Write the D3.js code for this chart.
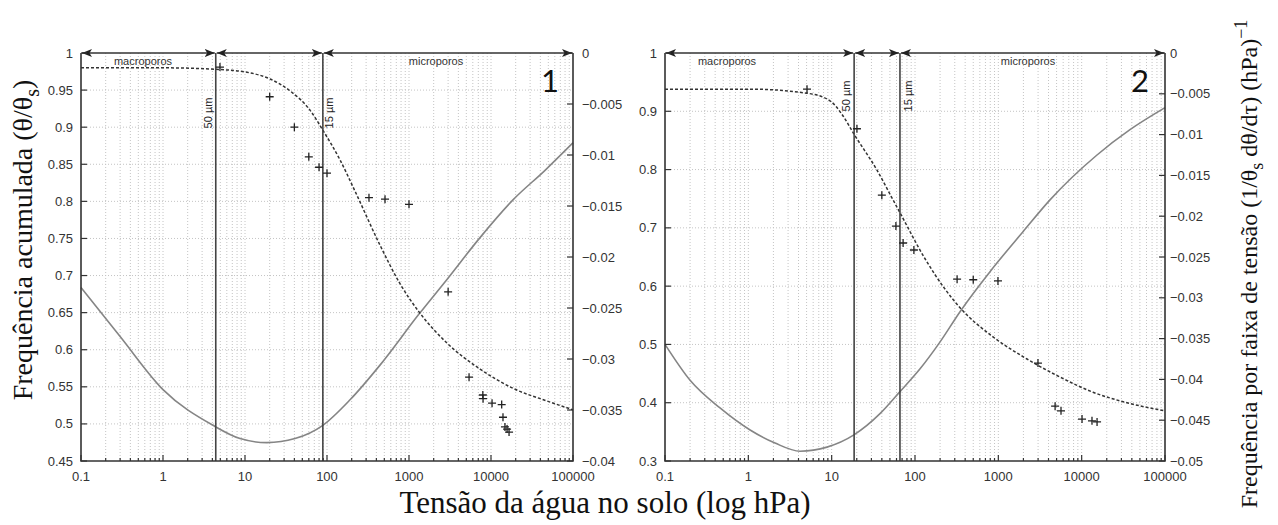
<!DOCTYPE html>
<html>
<head>
<meta charset="utf-8">
<script src="https://cdn.jsdelivr.net/npm/d3@7"></script>
<style>
  body { margin: 0; background: #fff; }
</style>
</head>
<body>
<svg id="chart" width="1278" height="525"></svg>
<script>
// ---- shared x axis (log tension, hPa)
var xTicks = [0.1, 1, 10, 100, 1000, 10000, 100000];
var xTickLabels = ["0.1", "1", "10", "100", "1000", "10000", "100000"];

// ---- panel 1
var p1LeftTicks = [0.45, 0.5, 0.55, 0.6, 0.65, 0.7, 0.75, 0.8, 0.85, 0.9, 0.95, 1];
var p1RightTicks = [-0.04, -0.035, -0.03, -0.025, -0.02, -0.015, -0.01, -0.005, 0];
var p1Limits = [4.4, 89];   // 50 um, 15 um
var p1CumH = [0.1, 1, 4.4, 10.6, 20.2, 35.4, 62, 89, 144, 219, 443, 777, 1324, 2905, 7345, 18540, 48000, 100000];
var p1CumTheta = [0.980, 0.980, 0.978, 0.974, 0.965, 0.949, 0.923, 0.896, 0.856, 0.814, 0.741, 0.689, 0.651, 0.609, 0.574, 0.548, 0.531, 0.519];
var p1FreqH = [0.1, 0.3, 1, 4.07, 8.7, 18.5, 40.7, 89, 191, 443, 1324, 2905, 7345, 18540, 45600, 100000];
var p1FreqVal = [-0.0230, -0.0278, -0.0330, -0.0365, -0.0378, -0.0382, -0.0378, -0.0365, -0.0340, -0.0306, -0.0256, -0.0222, -0.0181, -0.0144, -0.0115, -0.0088];
var p1ObsH = [4.95, 20, 40, 60, 80, 100, 325, 510, 1000, 3000, 5400, 7950, 8000, 10300, 13500, 14000, 14800, 15700, 16600];
var p1ObsTheta = [0.981, 0.941, 0.900, 0.860, 0.846, 0.838, 0.805, 0.803, 0.796, 0.678, 0.563, 0.539, 0.534, 0.528, 0.526, 0.509, 0.496, 0.493, 0.489];

// ---- panel 2
var p2LeftTicks = [0.3, 0.4, 0.5, 0.6, 0.7, 0.8, 0.9, 1];
var p2RightTicks = [-0.05, -0.045, -0.04, -0.035, -0.03, -0.025, -0.02, -0.015, -0.01, -0.005, 0];
var p2Limits = [18.6, 66];
var p2CumH = [0.1, 1.05, 5.06, 9.55, 13.7, 18.5, 35, 54.5, 66, 132, 229, 347, 863, 2208, 5500, 13680, 35000, 100000];
var p2CumTheta = [0.938, 0.938, 0.931, 0.918, 0.892, 0.861, 0.799, 0.748, 0.726, 0.647, 0.595, 0.563, 0.513, 0.475, 0.444, 0.418, 0.400, 0.386];
var p2FreqH = [0.1, 0.2, 0.457, 1.05, 2.09, 4.17, 8.79, 18.5, 38, 66, 115, 200, 347, 794, 1977, 4170, 15280, 38000, 100000];
var p2FreqVal = [-0.0357, -0.0401, -0.0435, -0.0462, -0.0478, -0.0488, -0.0483, -0.0468, -0.0442, -0.0415, -0.0387, -0.0354, -0.0317, -0.0268, -0.0219, -0.0180, -0.0125, -0.0094, -0.0067];
var p2ObsH = [5.06, 20.1, 40, 59, 72, 97, 320, 500, 990, 2990, 4800, 5650, 10100, 13300, 15300];
var p2ObsTheta = [0.938, 0.870, 0.756, 0.703, 0.674, 0.662, 0.612, 0.611, 0.609, 0.468, 0.394, 0.386, 0.372, 0.369, 0.367];

var svg = d3.select('#chart');
var TOP = 53, BOTTOM = 461;
var SANS = '"Liberation Sans", Arial, sans-serif';
var SERIF = '"Liberation Serif", "Times New Roman", serif';

// arrow head for the pore-range arrows
svg.append('defs').append('marker')
    .attr('id', 'head')
    .attr('viewBox', '0 0 10 8')
    .attr('refX', 10).attr('refY', 4)
    .attr('markerWidth', 10).attr('markerHeight', 8)
    .attr('markerUnits', 'userSpaceOnUse')
    .attr('orient', 'auto-start-reverse')
  .append('path')
    .attr('d', 'M0,0 L10,4 L0,8 L2.5,4 z')
    .style('fill', '#222');

function fmtLeft(v) { return String(+v.toFixed(2)); }
function fmtRight(v) { return v === 0 ? '0' : '\u2212' + String(+(-v).toFixed(3)); }

function drawPanel(p) {
  var x = d3.scaleLog().domain([0.1, 100000]).range([p.left, p.right]);
  var yL = d3.scaleLinear().domain([p.leftTicks[0], 1]).range([BOTTOM, TOP]);
  var yR = d3.scaleLinear().domain([p.rightTicks[0], 0]).range([BOTTOM, TOP]);
  var g = svg.append('g').attr('font-family', SANS);

  // minor positions 1..9 per decade
  var minors = [];
  xTicks.slice(0, -1).forEach(function(t) {
    for (var k = 1; k < 10; k++) minors.push(t * k);
  });
  minors.push(100000);

  // grid
  g.selectAll('.vgrid').data(minors.slice(1, -1)).enter().append('line')
      .attr('x1', function(d) { return x(d); }).attr('x2', function(d) { return x(d); })
      .attr('y1', TOP).attr('y2', BOTTOM)
      .style('stroke', '#c4c4c4').style('stroke-width', 1).style('stroke-dasharray', '1,2');
  g.selectAll('.hgrid').data(p.leftTicks.slice(1, -1)).enter().append('line')
      .attr('x1', p.left).attr('x2', p.right)
      .attr('y1', function(d) { return yL(d); }).attr('y2', function(d) { return yL(d); })
      .style('stroke', '#c4c4c4').style('stroke-width', 1).style('stroke-dasharray', '1,2');

  // frequency curve (right axis)
  var freq = p.freqH.map(function(h, i) { return [x(h), yR(p.freqVal[i])]; });
  g.append('path')
      .attr('d', d3.line().curve(d3.curveMonotoneX)(freq))
      .style('fill', 'none').style('stroke', '#858585').style('stroke-width', 1.6);

  // cumulative curve (left axis)
  var cum = p.cumH.map(function(h, i) { return [x(h), yL(p.cumTheta[i])]; });
  g.append('path')
      .attr('d', d3.line().curve(d3.curveMonotoneX)(cum))
      .style('fill', 'none').style('stroke', '#333').style('stroke-width', 1.5)
      .style('stroke-dasharray', '3,2');

  // pore-size limit lines
  g.selectAll('.lim').data(p.limits).enter().append('line')
      .attr('x1', function(d) { return x(d); }).attr('x2', function(d) { return x(d); })
      .attr('y1', TOP).attr('y2', BOTTOM)
      .style('stroke', '#444').style('stroke-width', 1.6);

  // observations
  g.selectAll('.obs').data(p.obsH).enter().append('path')
      .attr('transform', function(d, i) { return 'translate(' + x(d) + ',' + yL(p.obsTheta[i]) + ')'; })
      .attr('d', 'M-4,0H4M0,-4V4')
      .style('stroke', '#222').style('stroke-width', 1.3);

  // frame
  g.append('path')
      .attr('d', 'M' + p.left + ',' + TOP + 'V' + BOTTOM + 'H' + p.right + 'V' + TOP)
      .style('fill', 'none').style('stroke', '#333').style('stroke-width', 1.6);

  // range arrows along the top
  var bounds = [p.left, x(p.limits[0]), x(p.limits[1]), p.right];
  for (var i = 0; i < 3; i++) {
    g.append('line')
        .attr('x1', bounds[i] + 1).attr('x2', bounds[i + 1] - 1)
        .attr('y1', TOP).attr('y2', TOP)
        .style('stroke', '#333').style('stroke-width', 1.5)
        .attr('marker-start', 'url(#head)').attr('marker-end', 'url(#head)');
  }

  // x ticks (inside)
  g.selectAll('.xt').data(minors).enter().append('line')
      .attr('x1', function(d) { return x(d); }).attr('x2', function(d) { return x(d); })
      .attr('y1', BOTTOM)
      .attr('y2', function(d) { return xTicks.indexOf(d) >= 0 ? BOTTOM - 6 : BOTTOM - 3; })
      .style('stroke', '#333').style('stroke-width', 1.2);
  g.selectAll('.xl').data(xTicks).enter().append('text')
      .attr('x', function(d) { return x(d); }).attr('y', 481)
      .attr('text-anchor', 'middle')
      .style('font-size', '13px').style('fill', '#333')
      .text(function(d, i) { return xTickLabels[i]; });

  // left y ticks
  g.selectAll('.yl').data(p.leftTicks).enter().append('line')
      .attr('x1', p.left).attr('x2', p.left + 6)
      .attr('y1', function(d) { return yL(d); }).attr('y2', function(d) { return yL(d); })
      .style('stroke', '#333').style('stroke-width', 1.2);
  g.selectAll('.yll').data(p.leftTicks).enter().append('text')
      .attr('x', p.left - 8).attr('y', function(d) { return yL(d); })
      .attr('dy', '0.35em').attr('text-anchor', 'end')
      .style('font-size', '13px').style('fill', '#333')
      .text(fmtLeft);

  // right y ticks
  g.selectAll('.yr').data(p.rightTicks).enter().append('line')
      .attr('x1', p.right).attr('x2', p.right - 6)
      .attr('y1', function(d) { return yR(d); }).attr('y2', function(d) { return yR(d); })
      .style('stroke', '#333').style('stroke-width', 1.2);
  g.selectAll('.yrl').data(p.rightTicks).enter().append('text')
      .attr('x', p.right + p.rightGap).attr('y', function(d) { return yR(d); })
      .attr('dy', '0.35em')
      .style('font-size', '13px').style('fill', '#333')
      .text(fmtRight);

  // region names
  g.append('text').attr('x', p.left + 62).attr('y', 65).attr('text-anchor', 'middle')
      .style('font-size', '11px').style('fill', '#333').text('macroporos');
  g.append('text').attr('x', p.right - 137).attr('y', 65).attr('text-anchor', 'middle')
      .style('font-size', '11px').style('fill', '#333').text('microporos');

  // pore diameter labels next to the limit lines
  [['50 \u00b5m', x(p.limits[0]) + p.labelOff[0]], ['15 \u00b5m', x(p.limits[1]) + p.labelOff[1]]]
    .forEach(function(l) {
      g.append('text')
          .attr('transform', 'translate(' + l[1] + ',' + p.labelY + ') rotate(-90)')
          .attr('dy', '0.35em').attr('text-anchor', 'middle')
          .style('font-size', '11px').style('fill', '#222')
          .text(l[0]);
    });

  // panel number
  g.append('text').attr('x', p.numX).attr('y', 92).attr('text-anchor', 'middle')
      .attr('font-family', 'Lato, "Open Sans", sans-serif')
      .style('font-size', '31px').style('fill', '#111')
      .text(p.num);
}

drawPanel({
  left: 81, right: 573, leftTicks: p1LeftTicks, rightTicks: p1RightTicks,
  limits: p1Limits, cumH: p1CumH, cumTheta: p1CumTheta,
  freqH: p1FreqH, freqVal: p1FreqVal, obsH: p1ObsH, obsTheta: p1ObsTheta,
  rightGap: 9, labelOff: [-8, 6], labelY: 113, numX: 550, num: '1'
});
drawPanel({
  left: 665, right: 1165, leftTicks: p2LeftTicks, rightTicks: p2RightTicks,
  limits: p2Limits, cumH: p2CumH, cumTheta: p2CumTheta,
  freqH: p2FreqH, freqVal: p2FreqVal, obsH: p2ObsH, obsTheta: p2ObsTheta,
  rightGap: 5, labelOff: [-8, 8], labelY: 96, numX: 1140, num: '2'
});

// axis titles
svg.append('text')
    .attr('x', 605).attr('y', 513).attr('text-anchor', 'middle')
    .attr('font-family', SERIF).style('font-size', '31px').style('fill', '#111')
    .text('Tensão da água no solo  (log hPa)');

var lt = svg.append('text')
    .attr('transform', 'translate(32,240) rotate(-90)')
    .attr('text-anchor', 'middle')
    .attr('font-family', SERIF).style('font-size', '28px').style('fill', '#111');
lt.append('tspan').attr('font-family', SERIF).text('Frequência acumulada (θ/θ');
lt.append('tspan').attr('font-family', SERIF).attr('dy', 7).style('font-size', '20px').text('s');
lt.append('tspan').attr('font-family', SERIF).attr('dy', -7).text(')');

var rt = svg.append('text')
    .attr('transform', 'translate(1257,264) rotate(-90)')
    .attr('text-anchor', 'middle')
    .attr('font-family', SERIF).style('font-size', '24px').style('fill', '#111');
rt.append('tspan').attr('font-family', SERIF).text('Frequência por faixa de tensão  (1/θ');
rt.append('tspan').attr('font-family', SERIF).attr('dy', 6).style('font-size', '18px').text('s');
rt.append('tspan').attr('font-family', SERIF).attr('dy', -6).text(' dθ/dτ) (hPa)');
rt.append('tspan').attr('font-family', SERIF).attr('dy', -10).style('font-size', '18px').text('\u22121');
</script>
</body>
</html>
